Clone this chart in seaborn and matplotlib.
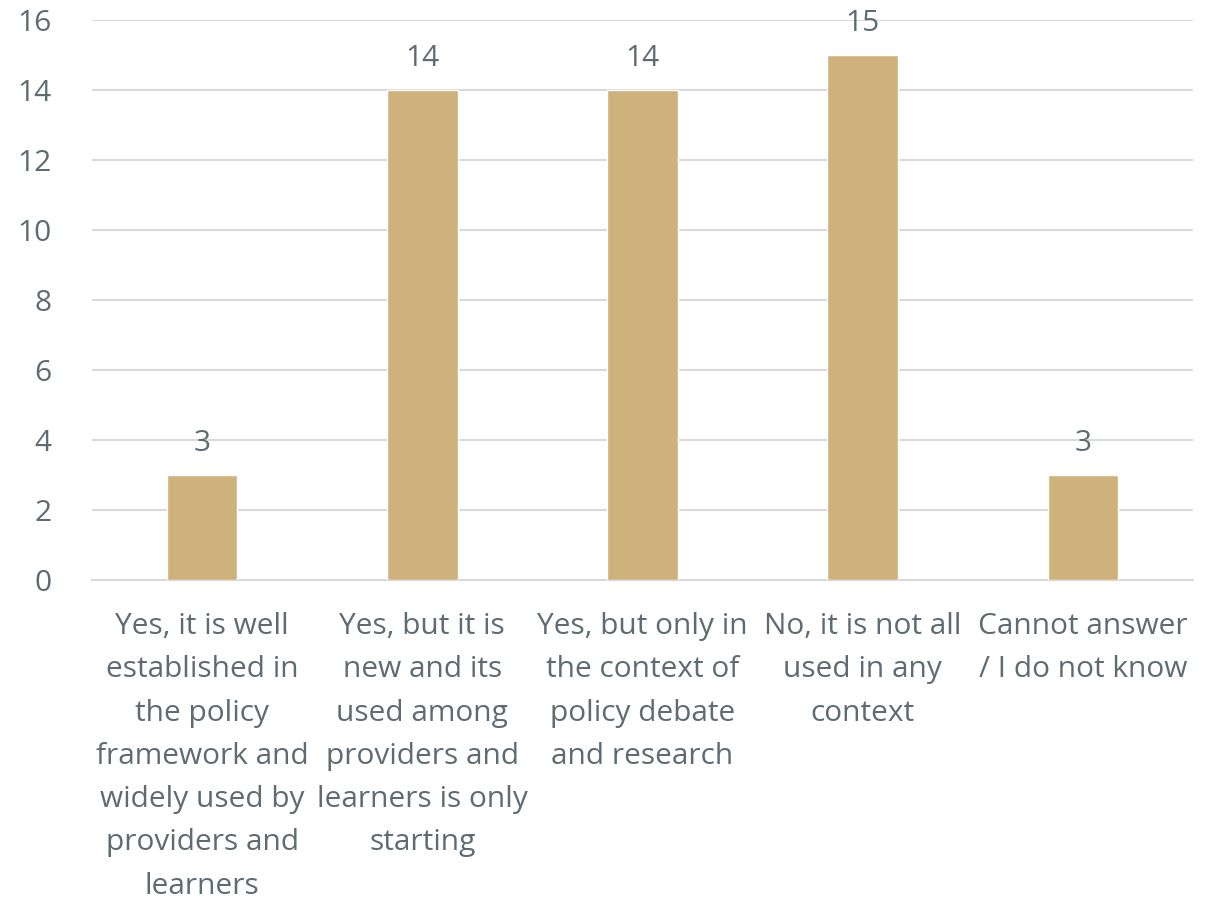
import matplotlib
matplotlib.use("Agg")
import matplotlib.pyplot as plt
import seaborn as sns
import pandas as pd

categories = [
    "Yes, it is well\nestablished in\nthe policy\nframework and\nwidely used by\nproviders and\nlearners",
    "Yes, but it is\nnew and its\nused among\nproviders and\nlearners is only\nstarting",
    "Yes, but only in\nthe context of\npolicy debate\nand research",
    "No, it is not all\nused in any\ncontext",
    "Cannot answer\n/ I do not know",
]
counts = [3, 14, 14, 15, 3]
y_ticks = [0, 2, 4, 6, 8, 10, 12, 14, 16]

bar_color = "#CFB17B"
text_color = "#5F6B73"
grid_color = "#D9D9D9"

sns.set_theme(style="white")
plt.rcParams["font.family"] = ["Open Sans", "DejaVu Sans"]

df = pd.DataFrame({"category": categories, "count": counts})

fig = plt.figure(figsize=(12.14, 9.0), dpi=100)
ax = fig.add_axes([92 / 1214, 1 - 580 / 900, (1193 - 92) / 1214, 560 / 900])

sns.barplot(data=df, x="category", y="count", color=bar_color, width=0.32,
            saturation=1, ax=ax, zorder=3)

ax.set_xlim(-0.5, 4.5)
ax.set_ylim(0, 16)
ax.set_yticks(y_ticks)
ax.yaxis.grid(True, color=grid_color, linewidth=1.5, zorder=0)
ax.set_axisbelow(True)
for side in ["top", "right", "left"]:
    ax.spines[side].set_visible(False)
ax.spines["bottom"].set_color(grid_color)
ax.spines["bottom"].set_linewidth(1.5)

ax.set_xlabel("")
ax.set_ylabel("")
ax.tick_params(axis="both", length=0, labelsize=21.5, colors=text_color)
ax.tick_params(axis="y", pad=29)
ax.tick_params(axis="x", pad=23)
for lbl in ax.get_xticklabels():
    lbl.set_linespacing(1.65)

for container in ax.containers:
    ax.bar_label(container, labels=[str(v) for v in counts], padding=12,
                 fontsize=21.5, color=text_color)

fig.savefig("out.png", dpi=100, facecolor="white")
